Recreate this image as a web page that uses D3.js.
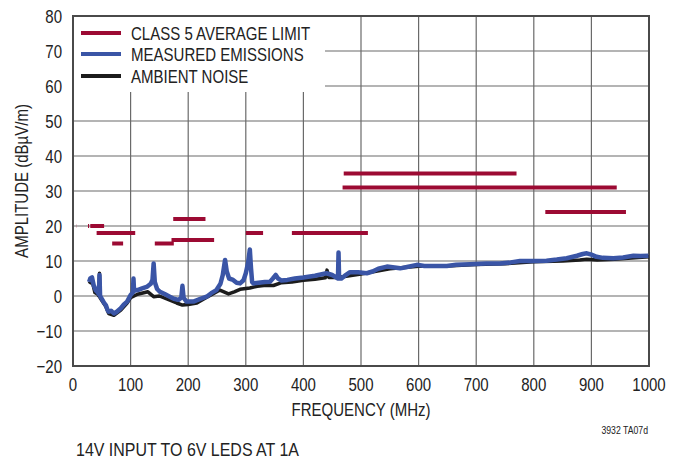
<!DOCTYPE html>
<html><head><meta charset="utf-8">
<script src="https://cdn.jsdelivr.net/npm/d3@7"></script>
<style>
body{margin:0;background:#fff;}
svg text{font-family:"Liberation Sans",Arial,sans-serif;fill:#222;}
</style></head>
<body><svg id="c" width="684" height="460"></svg>
<script>
const xTicks=[0,100,200,300,400,500,600,700,800,900,1000];
const yTicks=[-20,-10,0,10,20,30,40,50,60,70,80];
// CLASS 5 average limit segments: [fStart, fEnd, level]
const limitStart=[6,26,30,41,76,68,142,171,174,300,380,470,468,820];
const limitEnd  =[6.3,28,54,88,108,87,175,245,230,330,512,770,944,960];
const limitLevel=[20,20,20,18,18,15,15,16,22,18,18,35,31,24];
// measured emissions
const measFreq=[28,30,33,36,40,43,45,46,47,51,54,57,60,62,66,71,76,83,88,94,100,104,105,106,112,120,129,135,138,140,142,146,151,160,168,175,183,188,190,192,197,209,220,232,240,249,256,260,264,267,271,278,284,290,296,300,304,307,309,311,313,322,333,342,347,352,356,362,372,385,400,420,440,450,458,460,461,462,466,472,481,495,510,520,530,545,555,568,580,597,610,630,649,665,689,718,741,760,776,800,822,840,857,875,885,892,900,909,920,938,955,973,985,999];
const measAmp=[4,5,5.3,3,1.5,1,0.5,6,0,-1.1,-2,-2.6,-4,-4.5,-4.2,-5,-4.5,-3.5,-2.5,-1.6,0.3,1,5,1.5,1.7,2.2,2.7,3.5,4.6,9.3,4,2,1.2,0.5,-0.2,-0.8,-1.1,-0.5,2.9,-0.5,-1.6,-1.6,-0.9,-0.2,0.8,1.7,3.5,6,10.3,7,5,4.6,3.8,3.6,4.5,6.5,9.5,13.3,8,4,3.6,3.8,4,4.1,5,6,5,4.4,4.6,5,5.3,5.8,6.5,6,5.2,5,12.4,5,5,5.8,6.8,6.8,6.5,7,7.8,8.4,8.2,7.9,8.3,8.9,8.6,8.6,8.6,8.9,9.1,9.3,9.3,9.6,10,10,10.1,10.4,10.8,11.5,12,12.2,11.8,11.2,10.9,10.8,11,11.5,11.4,11.5];
// ambient noise
const ambFreq=[28,33,38,43,45,46,47,51,57,62,71,83,94,100,112,130,140,150,165,180,190,200,215,230,245,255,262,270,280,290,307,320,335,348,362,380,400,420,438,441,444,460,500,550,600,650,700,750,800,850,880,892,910,940,1000];
const ambAmp=[3.5,4.5,1,0.5,0,6.5,-0.5,-1.5,-3,-5,-5.5,-4,-2,-0.5,0.5,1.2,-0.2,0,-1,-2,-2.6,-2.4,-2,-0.6,0.8,1.7,1.2,0.6,1.2,1.9,2.3,2.8,3.1,3,3.8,4,4.5,4.8,5.2,7.4,5.3,5.3,6.3,7.8,8.5,8.6,9,9.2,9.8,10,10.3,10.5,10.3,10.5,11.2];
const legendLabels=["CLASS 5 AVERAGE LIMIT","MEASURED EMISSIONS","AMBIENT NOISE"];
const colors={limit:"#9c0a33",meas:"#3a55a6",amb:"#1c1c1c"};

const svg=d3.select("#c");
const L=73,R=649,T=16,B=366;
const x=d3.scaleLinear().domain([0,1000]).range([L,R]);
const y=d3.scaleLinear().domain([-20,80]).range([B,T]);

// grid
const g=svg.append("g");
g.selectAll(".vg").data(xTicks.slice(1,-1)).join("line")
 .attr("x1",d=>x(d)).attr("x2",d=>x(d)).attr("y1",T).attr("y2",B)
 .attr("stroke","#6a6a6a").attr("stroke-width",1.2);
g.selectAll(".hg").data(yTicks.slice(1,-1)).join("line")
 .attr("x1",L).attr("x2",R).attr("y1",d=>y(d)).attr("y2",d=>y(d))
 .attr("stroke","#6a6a6a").attr("stroke-width",1.2);

// legend background covering grid
svg.append("rect").attr("x",L+1).attr("y",T+1).attr("width",251).attr("height",75).attr("fill","#fff");

// frame
svg.append("rect").attr("x",L).attr("y",T).attr("width",R-L).attr("height",B-T)
 .attr("fill","none").attr("stroke","#4a4a4a").attr("stroke-width",2);

// limit lines
svg.selectAll(".lim").data(limitLevel.map((v,i)=>({a:limitStart[i],b:limitEnd[i],v}))).join("line")
 .attr("x1",d=>x(d.a)).attr("x2",d=>x(d.b)).attr("y1",d=>y(d.v)).attr("y2",d=>y(d.v))
 .attr("stroke",colors.limit).attr("stroke-width",4);

const line=d3.line().x(d=>x(d[0])).y(d=>y(d[1]));
svg.append("path").datum(ambFreq.map((f,i)=>[f,ambAmp[i]])).attr("d",line)
 .attr("fill","none").attr("stroke",colors.amb).attr("stroke-width",3.5).attr("stroke-linejoin","round");
svg.append("path").datum(measFreq.map((f,i)=>[f,measAmp[i]])).attr("d",line)
 .attr("fill","none").attr("stroke",colors.meas).attr("stroke-width",4.5).attr("stroke-linejoin","round");

const texts=[];
function T_(sel,f){texts.push([sel,f||0.79]);return sel;}
const FS=19;
// axes labels
T_(svg.selectAll(".yt").data(yTicks).join("text")
 .attr("x",L-11).attr("y",d=>y(d)).attr("dy","0.36em").attr("text-anchor","end")
 .attr("font-size",FS).text(d=>d<0?"\u2212"+Math.abs(d):d));
T_(svg.selectAll(".xt").data(xTicks).join("text")
 .attr("x",d=>x(d)).attr("y",391).attr("text-anchor","middle")
 .attr("font-size",FS).text(d=>d));
T_(svg.append("text").attr("x",x(500)).attr("y",416).attr("text-anchor","middle").attr("font-size",FS).text("FREQUENCY (MHz)"));
T_(svg.append("text").attr("transform","translate(28,181) rotate(-90)").attr("text-anchor","middle").attr("font-size",FS).text("AMPLITUDE (dB\u00b5V/m)"));
T_(svg.append("text").attr("x",648).attr("y",434).attr("text-anchor","end").attr("font-size",11).text("3932 TA07d"));
T_(svg.append("text").attr("x",76).attr("y",456).attr("font-size",FS).text("14V INPUT TO 6V LEDS AT 1A"),0.84);

// legend
const lc=[colors.limit,colors.meas,colors.amb];
const ly=[33,54,76];
legendLabels.forEach((t,i)=>{
  svg.append("line").attr("x1",81).attr("x2",121).attr("y1",ly[i]).attr("y2",ly[i]).attr("stroke",lc[i]).attr("stroke-width",4);
  T_(svg.append("text").attr("x",131).attr("y",ly[i]).attr("dy","0.36em").attr("font-size",FS).text(t));
});
// condense text to emulate a narrow face
texts.forEach(([s,f])=>s.each(function(){const w=this.getComputedTextLength();this.setAttribute("textLength",w*f);this.setAttribute("lengthAdjust","spacingAndGlyphs");}));
</script></body></html>
